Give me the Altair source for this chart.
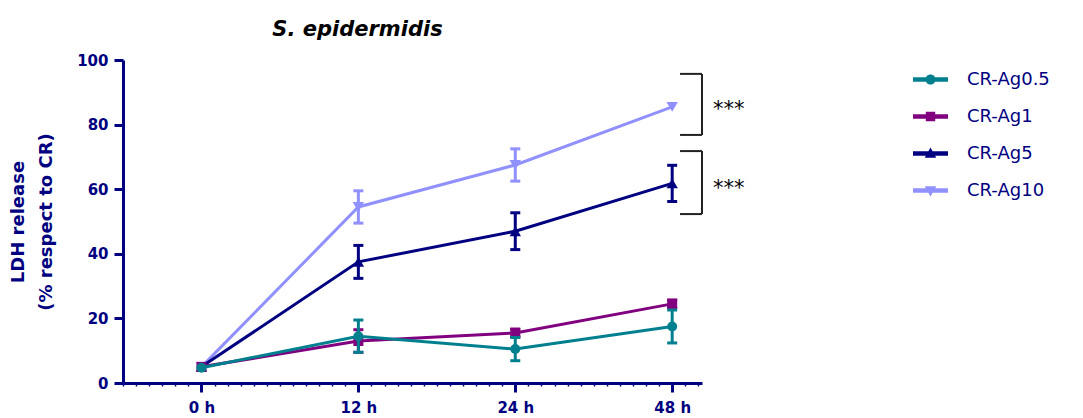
import altair as alt
import pandas as pd

# ---------------- data ----------------
times = ["0 h", "12 h", "24 h", "48 h"]
series_names = ["CR-Ag0.5", "CR-Ag1", "CR-Ag5", "CR-Ag10"]
colors = ["#00808f", "#800080", "#000080", "#9090ff"]
shapes = ["circle", "square", "triangle-up", "triangle-down"]

ag05_mean = [4.7, 14.5, 10.5, 17.5]
ag05_err = [0.0, 5.0, 3.6, 5.1]
ag1_mean = [5.0, 13.0, 15.5, 24.5]
ag1_err = [0.0, 3.5, 1.2, 1.2]
ag5_mean = [5.0, 37.5, 47.0, 61.8]
ag5_err = [0.0, 5.1, 5.7, 5.6]
ag10_mean = [5.0, 54.5, 67.5, 85.5]
ag10_err = [0.0, 5.0, 5.0, 0.0]

means = [ag05_mean, ag1_mean, ag5_mean, ag10_mean]
errs = [ag05_err, ag1_err, ag5_err, ag10_err]

# significance brackets (value range covered by each bracket)
sig_labels = ["***", "***"]
sig_top = [95.7, 71.8]
sig_bottom = [76.8, 52.3]
bracket_x0, bracket_x1, star_x = 3.05, 3.19, 3.36

y_ticks = [0, 20, 40, 60, 80, 100]

# ---------------- tables ----------------
rows = []
for name, m, e in zip(series_names, means, errs):
    for i, (v, d) in enumerate(zip(m, e)):
        rows.append({"series": name, "t": i, "time": times[i], "mean": v,
                     "err": d, "lo": v - d, "hi": v + d})
df = pd.DataFrame(rows)

br = pd.DataFrame({"label": sig_labels, "top": sig_top, "bottom": sig_bottom})
br["x0"] = bracket_x0
br["x1"] = bracket_x1
br["xs"] = star_x
br["mid"] = (br["top"] + br["bottom"]) / 2

# ---------------- scales / axes ----------------
NAVY = "#000080"
FONT = "DejaVu Sans"

x_scale = alt.Scale(domain=[-0.5, 3.19], nice=False, zero=False)
y_scale = alt.Scale(domain=[0, 100], nice=False)

minor_vals = [round(k / 12, 4) for k in range(-6, 39)]
label_js = "[" + ",".join("'" + t + "'" for t in times) + "]"
is_major = "datum.value % 1 === 0"

x_axis = alt.Axis(
    title=None, values=minor_vals,
    labelExpr=is_major + " ? " + label_js + "[datum.value] : ''",
    tickSize={"condition": {"test": is_major, "value": 9}, "value": 3},
    tickWidth={"condition": {"test": is_major, "value": 3}, "value": 1.5},
    tickColor=NAVY, domainColor=NAVY, domainWidth=3, grid=False,
    labelFont=FONT, labelFontSize=15, labelFontWeight="bold", labelColor=NAVY,
    labelPadding=8, labelAngle=0,
)
y_axis = alt.Axis(
    title=["LDH release", "(% respect to CR)"], values=y_ticks,
    tickSize=9, tickWidth=3, tickColor=NAVY, domainColor=NAVY, domainWidth=3,
    grid=False, labelFont=FONT, labelFontSize=15, labelFontWeight="bold",
    labelColor=NAVY, labelPadding=6,
    titleFont=FONT, titleFontSize=18, titleFontWeight="bold", titleColor=NAVY,
    titlePadding=21, titleLineHeight=28,
)


def xq(field):
    return alt.X(field, type="quantitative", scale=x_scale, axis=x_axis)


def yq(field):
    return alt.Y(field, type="quantitative", scale=y_scale, axis=y_axis)


layers = []
draw_order = [3, 2, 1, 0]
for idx in draw_order:
    name, col, shp = series_names[idx], colors[idx], shapes[idx]
    base = alt.Chart(df).transform_filter(alt.datum.series == name)
    layers.append(base.mark_line(color=col, strokeWidth=3).encode(x=xq("t"), y=yq("mean")))
    eb = base.transform_filter("datum.err > 0")
    layers.append(eb.mark_rule(color=col, strokeWidth=3).encode(x=xq("t"), y=yq("lo"), y2="hi"))
    layers.append(eb.mark_tick(color=col, orient="horizontal", size=10, thickness=3, opacity=1)
                  .encode(x=xq("t"), y=yq("lo")))
    layers.append(eb.mark_tick(color=col, orient="horizontal", size=10, thickness=3, opacity=1)
                  .encode(x=xq("t"), y=yq("hi")))
    size = 100 if shp in ("circle", "square") else 130
    layers.append(base.mark_point(shape=shp, filled=True, size=size, color=col, opacity=1)
                  .encode(x=xq("t"), y=yq("mean")))

# brackets
bcol = "#222222"
bch = alt.Chart(br)
layers.append(bch.mark_rule(color=bcol, strokeWidth=2).encode(x=xq("x0"), x2="x1", y=yq("top")))
layers.append(bch.mark_rule(color=bcol, strokeWidth=2).encode(x=xq("x0"), x2="x1", y=yq("bottom")))
layers.append(bch.mark_rule(color=bcol, strokeWidth=2).encode(x=xq("x1"), y=yq("bottom"), y2="top"))
layers.append(bch.mark_text(font=FONT, fontSize=21, color="black", baseline="middle", dy=6)
              .encode(x=xq("xs"), y=yq("mid"), text="label"))

# legend (symbols = line with marker)
legend_paths = [
    "M-1,-0.13H1V0.13H-1Z M0.29,0 A0.29,0.29 0 1,1 -0.29,0 A0.29,0.29 0 1,1 0.29,0 Z",
    "M-1,-0.13H1V0.13H-1Z M-0.27,-0.27H0.27V0.27H-0.27Z",
    "M-1,-0.13H1V0.13H-1Z M0,-0.34L0.33,0.24L-0.33,0.24Z",
    "M-1,-0.13H1V0.13H-1Z M-0.33,-0.24L0.33,-0.24L0,0.34Z",
]
leg = alt.Legend(title=None, orient="none", legendX=790, legendY=2, padding=0,
                 labelFont=FONT, labelFontSize=18, labelColor=NAVY,
                 symbolSize=1225, symbolStrokeWidth=0, symbolOpacity=1,
                 labelOffset=19, rowPadding=10)
layers.append(
    alt.Chart(df).transform_filter("false").mark_point(filled=True, size=10, opacity=1).encode(
        x=xq("t"), y=yq("mean"),
        shape=alt.Shape("series:N", scale=alt.Scale(domain=series_names, range=legend_paths), legend=leg),
        fill=alt.Fill("series:N", scale=alt.Scale(domain=series_names, range=colors), legend=leg),
    )
)

chart = alt.layer(*layers).properties(
    width=579, height=323,
    autosize=alt.AutoSizeParams(type="none"),
    padding={"left": 115, "top": 52, "right": 373, "bottom": 35},
    title=alt.Title("S. epidermidis", font=FONT, fontSize=21, fontWeight="bold",
                    fontStyle="italic", color="black", anchor="middle", frame="group",
                    dx=-55, dy=18, offset=14, baseline="alphabetic"),
    background="white",
).configure_view(stroke=None)

chart.save("out.html", embed_options={"renderer": "svg", "actions": False})
